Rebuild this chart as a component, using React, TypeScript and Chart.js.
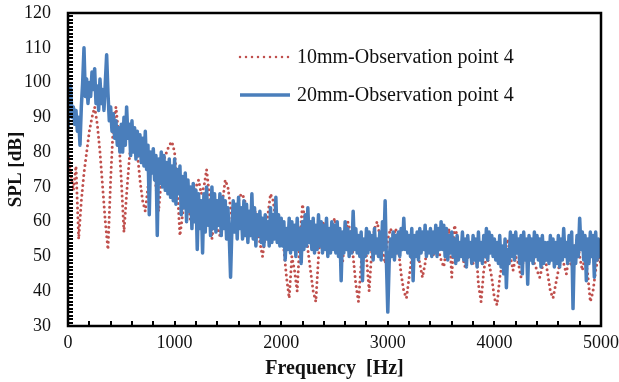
import React, { useEffect, useRef } from "react";
import { Chart, registerables } from "chart.js";

Chart.register(...registerables);

// Frequency grids of the spectra (Hz)
const FREQ_STEP_10MM = 25;
const FREQ_STEP_20MM = 12.5;

// 10mm - Observation point 4 (dB), one value per 25 Hz from 0 to 5000 Hz
const SPL_10MM = [
  80, 74, 69, 76, 55, 66, 74, 80, 86, 90, 93, 88, 80, 70, 60, 52, 72, 88, 93, 85,
  72, 57, 68, 78, 85, 87, 80, 72, 66, 63, 70, 76, 78, 70, 63, 72, 78, 80, 82, 83,
  80, 70, 56, 62, 68, 66, 60, 64, 70, 72, 68, 70, 75, 68, 55, 62, 58, 56, 66, 72,
  70, 64, 58, 62, 66, 68, 67, 64, 60, 62, 64, 58, 54, 50, 56, 62, 68, 66, 60, 62,
  58, 52, 44, 38, 50, 46, 40, 55, 65, 60, 52, 46, 40, 37, 50, 58, 60, 58, 55, 57,
  61, 58, 52, 48, 56, 60, 57, 50, 42, 37, 48, 55, 50, 40, 52, 58, 60, 56, 52, 48,
  55, 58, 56, 58, 52, 45, 40, 38, 44, 50, 54, 52, 48, 44, 48, 55, 52, 50, 54, 52,
  49, 47, 52, 58, 44, 59, 56, 52, 50, 47, 50, 53, 48, 54, 42, 37, 46, 50, 48, 44,
  38, 36, 44, 48, 52, 55, 50, 46, 50, 48, 44, 50, 53, 49, 54, 48, 46, 44, 47, 50,
  45, 40, 38, 42, 46, 50, 48, 45, 50, 47, 52, 55, 50, 46, 50, 45, 37, 40, 46, 50,
  48,
];

// 20mm - Observation point 4 (dB), one value per 12.5 Hz from 0 to 5000 Hz
const SPL_20MM = [
  87, 97, 99, 90, 93, 88, 92, 86, 90, 82, 93, 100, 110, 96, 101, 94, 100, 96, 103, 98,
  104, 94, 99, 92, 101, 94, 98, 92, 100, 108, 97, 89, 93, 86, 91, 84, 89, 82, 87, 80,
  88, 80, 90, 82, 93, 84, 88, 79, 89, 80, 87, 78, 86, 79, 85, 77, 84, 76, 86, 75,
  82, 62, 80, 74, 81, 72, 79, 56, 78, 71, 80, 70, 79, 69, 77, 68, 78, 67, 76, 66,
  78, 65, 75, 68, 76, 62, 73, 64, 74, 60, 72, 63, 70, 58, 71, 60, 69, 52, 68, 58,
  66, 51, 68, 57, 70, 59, 66, 56, 70, 58, 68, 57, 66, 59, 68, 56, 67, 58, 66, 55,
  64, 56, 44, 58, 66, 57, 65, 55, 67, 58, 64, 55, 66, 56, 65, 54, 63, 56, 68, 55,
  64, 53, 62, 56, 63, 54, 61, 53, 62, 55, 60, 53, 64, 54, 62, 55, 67, 54, 62, 53,
  61, 53, 60, 49, 58, 52, 61, 51, 60, 52, 59, 50, 61, 52, 58, 48, 60, 52, 62, 53,
  64, 54, 60, 52, 61, 51, 59, 52, 62, 53, 60, 51, 59, 52, 61, 50, 58, 51, 60, 52,
  59, 51, 60, 50, 58, 43, 57, 51, 60, 52, 58, 50, 57, 51, 63, 52, 58, 51, 56, 50,
  57, 43, 55, 50, 58, 51, 57, 52, 56, 49, 58, 51, 55, 50, 57, 49, 60, 52, 66, 48,
  34, 48, 55, 50, 57, 49, 56, 51, 57, 50, 58, 52, 61, 52, 57, 51, 56, 50, 58, 43,
  56, 50, 57, 49, 58, 51, 57, 52, 59, 50, 57, 51, 58, 50, 57, 51, 59, 50, 58, 52,
  60, 52, 59, 50, 58, 49, 56, 51, 57, 50, 55, 48, 56, 49, 54, 50, 57, 49, 55, 47,
  56, 50, 54, 48, 56, 49, 55, 47, 57, 49, 54, 48, 56, 50, 58, 49, 57, 51, 56, 50,
  55, 49, 54, 48, 56, 47, 53, 45, 55, 41, 52, 48, 57, 50, 56, 49, 57, 51, 55, 48,
  56, 45, 57, 49, 55, 42, 56, 49, 55, 48, 57, 50, 56, 49, 55, 47, 56, 48, 54, 49,
  54, 48, 56, 49, 55, 47, 54, 48, 56, 47, 55, 49, 58, 50, 54, 48, 56, 49, 57, 35,
  53, 48, 56, 50, 61, 52, 57, 49, 56, 43, 55, 48, 57, 50, 56, 44, 57, 49, 55, 50,
  54,
];

const SERIES_LABELS = ["10mm-Observation point 4", "20mm-Observation point 4"];
const X_TITLE = "Frequency  [Hz]";
const Y_TITLE = "SPL [dB]";
const X_MIN = 0;
const X_MAX = 5000;
const X_MAJOR = 1000;
const X_MINOR = 200;
const Y_MIN = 30;
const Y_MAX = 120;
const Y_MAJOR = 10;
const Y_MINOR = 1;

const RED = "#C0504D";
const BLUE = "#4A7EBB";
const FONT_FAMILY = '"Liberation Serif", "Times New Roman", serif';

const toPoints = (vals: number[], step: number) =>
  vals.map((v, i) => ({ x: i * step, y: v }));

const framePlugin = {
  id: "frameTicks",
  afterDatasetsDraw(chart: any) {
    const { ctx, chartArea: a, scales } = chart;
    const xs = scales.x;
    const ys = scales.y;
    ctx.save();
    ctx.strokeStyle = "#000";
    ctx.lineWidth = 2;
    ctx.beginPath();
    for (let f = X_MIN; f <= X_MAX; f += X_MINOR) {
      const px = Math.round(xs.getPixelForValue(f));
      ctx.moveTo(px, a.bottom);
      ctx.lineTo(px, a.bottom - 5);
    }
    for (let v = Y_MIN; v <= Y_MAX; v += Y_MINOR) {
      const py = Math.round(ys.getPixelForValue(v));
      ctx.moveTo(a.left, py);
      ctx.lineTo(a.left + 5, py);
    }
    ctx.stroke();
    ctx.lineWidth = 2.5;
    ctx.strokeRect(a.left, a.top, a.right - a.left, a.bottom - a.top);
    ctx.restore();
  },
};

const legendPlugin = {
  id: "insideLegend",
  afterDraw(chart: any) {
    const { ctx, chartArea: a } = chart;
    const x0 = a.left + 172;
    const x1 = a.left + 222;
    const tx = a.left + 229;
    const rows = [a.top + 44, a.top + 82];
    ctx.save();
    chart.data.datasets.forEach((ds: any, i: number) => {
      const y = rows[i];
      ctx.beginPath();
      ctx.strokeStyle = ds.borderColor;
      ctx.lineWidth = i === 0 ? 2.5 : 3.5;
      ctx.lineCap = ds.borderCapStyle || "butt";
      ctx.setLineDash(i === 0 ? [0, 6] : []);
      ctx.moveTo(x0, y);
      ctx.lineTo(x1, y);
      ctx.stroke();
      ctx.setLineDash([]);
      ctx.fillStyle = "#111";
      ctx.font = `20px ${FONT_FAMILY}`;
      ctx.textAlign = "left";
      ctx.textBaseline = "middle";
      ctx.fillText(ds.label, tx, y + 1);
    });
    ctx.restore();
  },
};

export default function App() {
  const ref = useRef<HTMLCanvasElement | null>(null);

  useEffect(() => {
    document.body.style.margin = "0";
    const canvas = ref.current;
    if (!canvas) return;
    const chart = new Chart(canvas, {
      type: "line",
      data: {
        datasets: [
          {
            label: SERIES_LABELS[0],
            data: toPoints(SPL_10MM, FREQ_STEP_10MM),
            borderColor: RED,
            borderWidth: 3,
            borderDash: [0, 5],
            borderCapStyle: "round",
            pointRadius: 0,
            tension: 0,
            order: 1,
          },
          {
            label: SERIES_LABELS[1],
            data: toPoints(SPL_20MM, FREQ_STEP_20MM),
            borderColor: BLUE,
            borderWidth: 3.5,
            borderJoinStyle: "round",
            pointRadius: 0,
            tension: 0,
            order: 0,
          },
        ],
      },
      options: {
        responsive: false,
        animation: false,
        devicePixelRatio: 1,
        layout: { padding: { top: 13, right: 18, left: 0, bottom: 0 } },
        plugins: {
          legend: { display: false },
          tooltip: { enabled: false },
        },
        scales: {
          x: {
            type: "linear",
            min: X_MIN,
            max: X_MAX,
            border: { display: false },
            grid: { display: false, drawTicks: true, tickLength: 6 },
            ticks: {
              stepSize: X_MAJOR,
              padding: 0,
              color: "#111",
              maxRotation: 0,
              font: { family: FONT_FAMILY, size: 18 },
              callback: (v: any) => String(v),
            },
            title: {
              display: true,
              text: X_TITLE,
              color: "#111",
              font: { family: FONT_FAMILY, size: 20, weight: "bold" },
              padding: { top: 0, bottom: 1 },
            },
            afterFit: (s: any) => {
              s.height = 56;
            },
          },
          y: {
            min: Y_MIN,
            max: Y_MAX,
            border: { display: false },
            grid: { display: false, drawTicks: true, tickLength: 17 },
            ticks: {
              stepSize: Y_MAJOR,
              padding: 0,
              color: "#111",
              font: { family: FONT_FAMILY, size: 18 },
              callback: (v: any) => String(v),
            },
            title: {
              display: true,
              text: Y_TITLE,
              color: "#111",
              font: { family: FONT_FAMILY, size: 19, weight: "bold" },
              padding: { top: 5, bottom: 0 },
            },
            afterFit: (s: any) => {
              s.width = 68;
            },
          },
        },
      },
      plugins: [framePlugin, legendPlugin],
    });
    return () => chart.destroy();
  }, []);

  return (
    <div style={{ width: 619, height: 382, background: "#fff" }}>
      <canvas ref={ref} width={619} height={382} style={{ display: "block" }} />
    </div>
  );
}
